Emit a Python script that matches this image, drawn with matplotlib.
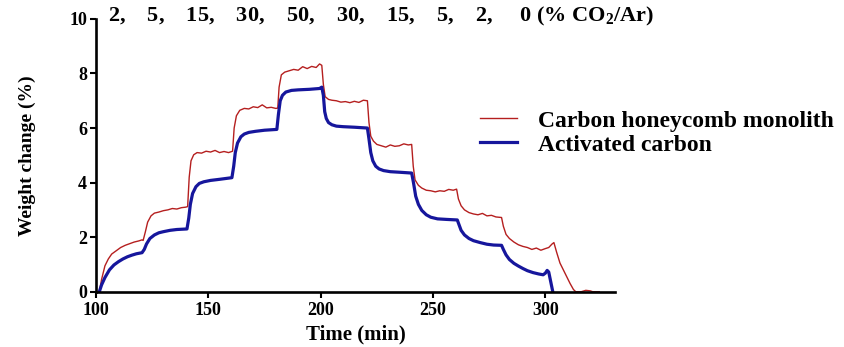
import matplotlib

matplotlib.use("Agg")

import matplotlib.pyplot as plt  # noqa: E402

plt.rcParams["font.family"] = ["Liberation Serif", "DejaVu Serif"]
plt.rcParams["font.weight"] = "bold"
plt.rcParams["mathtext.fontset"] = "custom"
plt.rcParams["mathtext.rm"] = "Liberation Serif:bold"
plt.rcParams["mathtext.bf"] = "Liberation Serif:bold"

# Carbon honeycomb monolith (red, noisy trace)
t_honeycomb = [101.5, 102.5, 104, 105.5, 107, 109, 111, 113, 115, 117, 119, 120.5,
               121, 122, 123, 124.5, 126, 128, 130, 132, 134, 136, 138, 140, 140.8,
               141.5, 142.3, 143.5, 145, 147, 149, 151, 153, 155, 157, 159, 160.8,
               161.5, 162.5, 164, 166, 168, 170, 172, 174, 176, 178, 180, 180.9,
               181.5, 182.5, 184, 186, 188, 190, 192, 194, 196, 198, 199.5, 200.5,
               201.2, 202, 203.5, 205, 207, 209, 211, 213, 215, 217, 219, 220.8,
               221.5, 222.3, 223.5, 225, 227, 229, 231, 233, 235, 237, 239, 240.5,
               241.2, 242, 243.5, 245, 247, 249, 251, 253, 255, 257, 259, 260.5,
               261.3, 262.5, 264, 266, 268, 270, 272, 274, 276, 278, 280.5,
               281.3, 282.5, 284, 286, 288, 290, 292, 294, 296, 298, 300, 301.5, 303, 303.8,
               305, 306.5, 308, 309.5, 311, 312.5, 313.5, 316, 318, 320, 321, 324]
w_honeycomb = [0.0, 0.45, 0.95, 1.2, 1.38, 1.5, 1.62, 1.7, 1.76, 1.82, 1.86, 1.9,
               1.88, 2.2, 2.55, 2.78, 2.88, 2.92, 2.97, 3.0, 3.05, 3.03, 3.08, 3.1, 3.12,
               4.2, 4.8, 5.02, 5.1, 5.08, 5.15, 5.12, 5.18, 5.1, 5.14, 5.1, 5.15,
               6.0, 6.45, 6.65, 6.72, 6.7, 6.78, 6.75, 6.85, 6.74, 6.76, 6.72, 6.73,
               7.5, 7.95, 8.05, 8.1, 8.15, 8.12, 8.25, 8.18, 8.26, 8.22, 8.35, 8.3,
               7.6, 7.15, 7.05, 7.02, 7.0, 6.95, 6.97, 6.93, 6.98, 6.94, 7.02, 7.0,
               6.2, 5.7, 5.52, 5.4, 5.35, 5.3, 5.38, 5.33, 5.35, 5.42, 5.38, 5.4,
               4.6, 4.1, 3.9, 3.8, 3.72, 3.7, 3.66, 3.7, 3.68, 3.75, 3.72, 3.76,
               3.4, 3.15, 3.0, 2.9, 2.85, 2.82, 2.87, 2.78, 2.8, 2.74, 2.72,
               2.4, 2.1, 1.95, 1.82, 1.72, 1.66, 1.62, 1.55, 1.6, 1.52, 1.58, 1.62, 1.75, 1.8,
               1.45, 1.05, 0.8, 0.55, 0.3, 0.08, 0.0, 0.0, 0.05, 0.03, 0.0, 0.0]

# Activated carbon (blue, smooth trace)
t_activated = [101.5, 102.5, 104, 106, 108, 110, 112, 114, 116, 118, 120.5,
               121.5, 122.5, 124, 126, 128, 130, 133, 136, 140.5,
               141.3, 142, 143, 144.5, 146, 148, 151, 155, 160.5,
               161.3, 162, 163, 164.5, 166, 168, 171, 175, 180.5,
               181.2, 182, 183, 184.5, 187, 190, 195, 199.5, 200.5,
               201.2, 201.8, 202.5, 203.5, 205, 207, 210, 215, 220.8,
               221.5, 222.3, 223.2, 224.5, 226, 228, 231, 235, 240.5,
               241.3, 242.3, 243.5, 245, 247, 249, 252, 256, 260.8,
               261.6, 262.5, 264, 266, 268, 271, 274, 277, 280.5,
               281.3, 282.5, 284, 286, 288, 290, 292, 294.5, 297, 299, 300, 300.8,
               301.5, 302.3, 303.3]
w_activated = [0.0, 0.25, 0.52, 0.8, 0.98, 1.1, 1.2, 1.28, 1.34, 1.39, 1.43,
               1.55, 1.75, 1.95, 2.08, 2.16, 2.2, 2.25, 2.28, 2.3,
               2.7, 3.2, 3.6, 3.85, 3.97, 4.03, 4.08, 4.12, 4.18,
               4.6, 5.1, 5.45, 5.68, 5.78, 5.84, 5.88, 5.92, 5.95,
               6.5, 7.0, 7.2, 7.32, 7.38, 7.4, 7.42, 7.45, 7.5,
               7.2, 6.6, 6.35, 6.2, 6.12, 6.07, 6.05, 6.03, 6.0,
               5.6, 5.1, 4.8, 4.6, 4.5, 4.44, 4.4, 4.38, 4.35,
               4.0, 3.5, 3.2, 2.98, 2.82, 2.73, 2.67, 2.65, 2.63,
               2.45, 2.25, 2.08, 1.95, 1.87, 1.8, 1.74, 1.71, 1.7,
               1.55, 1.35, 1.18, 1.04, 0.94, 0.85, 0.77, 0.7, 0.65, 0.62, 0.68, 0.78,
               0.72, 0.4, 0.0]

x_ticks = [100, 150, 200, 250, 300]
y_ticks = [0, 2, 4, 6, 8, 10]
co2_steps = ["2", "5", "15", "30", "50", "30", "15", "5", "2", "0"]

RED = "#B51F1F"
BLUE = "#16169C"

fig = plt.figure(figsize=(8.44, 3.47), dpi=100)
ax = fig.add_axes([0.1137, 0.1594, 0.615, 0.786])

ax.plot(t_honeycomb, w_honeycomb, color=RED, lw=1.0, label="Carbon honeycomb monolith")
ax.plot(t_activated, w_activated, color=BLUE, lw=2.3, label="Activated carbon")

ax.set_xlim(100, 331)
ax.set_ylim(0, 10)
ax.set_xticks(x_ticks)
ax.set_yticks(y_ticks)
for side in ("top", "right"):
    ax.spines[side].set_visible(False)
for side in ("left", "bottom"):
    ax.spines[side].set_linewidth(1.9)
ax.tick_params(direction="out", length=4.5, width=1.5, labelsize=13, pad=2)
ax.tick_params(axis="x", pad=3)

ax.set_xlabel("Time (min)", fontsize=15, fontweight="bold", labelpad=4)
ax.set_ylabel("Weight change (%)", fontsize=14, fontweight="bold", labelpad=24)

header = ",    ".join(co2_steps[:-1]) + ",     " + co2_steps[-1] + r" (% CO$_{2}$/Ar)"
fig.text(0.128, 0.953, header, fontsize=16, fontweight="bold", va="center", ha="left")

ax.legend(loc="upper left", bbox_to_anchor=(0.722, 0.70), frameon=False,
          prop={"size": 17, "weight": "bold"}, handlelength=1.55, handletextpad=0.9,
          labelspacing=0.1, borderaxespad=0)

fig.savefig("out.png", dpi=100)
